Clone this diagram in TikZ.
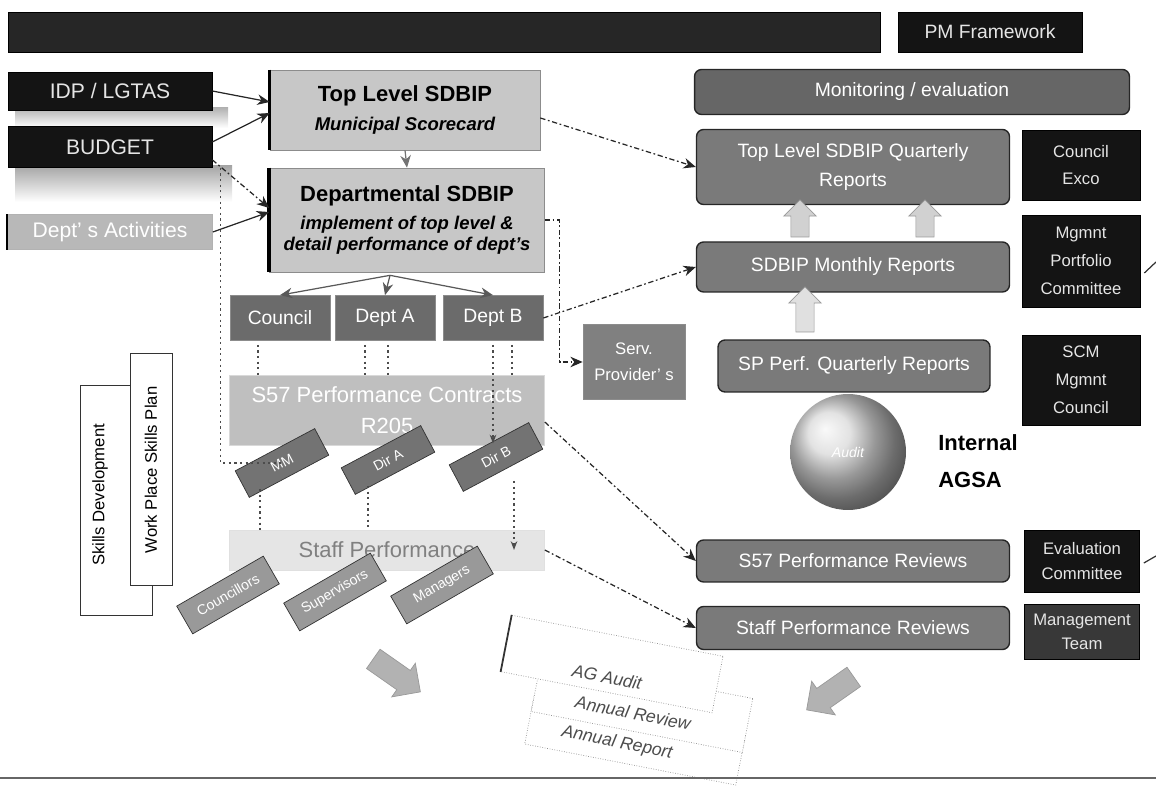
\documentclass[tikz,border=0pt]{standalone}
\usepackage{fontspec}
\setmainfont{Liberation Sans}
\usetikzlibrary{shapes.arrows,arrows.meta,calc}
\begin{document}
\begin{tikzpicture}[x=0.02cm,y=-0.02cm,
  blk/.style={draw=black, fill=black!92, text=black!10, inner sep=0pt, align=center},
  rbox/.style={draw=black!85, line width=0.8pt, rounded corners=4pt, fill=black!52, text=white, inner sep=0pt, align=center, font=\fontsize{11}{14}\selectfont},
  sdbip/.style={draw=black!45, fill=black!22, inner sep=0pt, align=center},
  dbox/.style={draw=black!45, fill=black!58, text=white, inner sep=0pt, align=center, font=\fontsize{11}{13}\selectfont},
  conn/.style={-{Stealth[length=7pt,width=6pt]}, black!85, line width=0.7pt},
  dconn/.style={conn, dash pattern=on 3pt off 1.5pt on 1pt off 1.5pt},
  dotl/.style={black!70, line width=0.8pt, dash pattern=on 1.2pt off 2pt},
  tilt/.style={draw=black!80, fill=black!45, text=white, inner sep=0pt, font=\fontsize{8}{9}\selectfont},
  pagebox/.style={draw=black!45, densely dotted, fill=white, inner sep=0pt, rotate=-11},
  pagetxt/.style={rotate=-11, text=black!70, font=\itshape\fontsize{10}{12}\selectfont},
  barrow/.style={single arrow, draw=black!40, fill=black!18, single arrow head extend=4pt, inner xsep=0pt, inner ysep=0pt}
]
\useasboundingbox (0,0) rectangle (1156,786);

% top bar
\node[blk, fill=black!85, minimum width=17.44cm, minimum height=0.8cm] (bar) at (444,32) {};
\node[blk, minimum width=3.68cm, minimum height=0.8cm, font=\fontsize{11}{13}\selectfont] (pmf) at (990,32) {PM Framework};

% left inputs
\shade[top color=black!30, bottom color=white] (15,108) rectangle (228,128);
\shade[top color=black!35, bottom color=white] (15,166) rectangle (232,202);
\node[blk, minimum width=4.08cm, minimum height=0.76cm, font=\fontsize{12}{14}\selectfont] (idp) at (110,91) {IDP / LGTAS};
\node[blk, minimum width=4.08cm, minimum height=0.82cm, font=\fontsize{12}{14}\selectfont] (budget) at (110,147) {BUDGET};
\node[draw=black!30, fill=black!28, text=white, minimum width=4.1cm, minimum height=0.7cm, inner sep=0pt, font=\fontsize{12}{14}\selectfont] (act) at (110,232) {Dept’ s Activities};
\draw[line width=1.5pt] (act.north west) -- (act.south west);

% SDBIP boxes
\node[sdbip, minimum width=5.4cm, minimum height=1.6cm] (tl) at (405,110)
  {{\fontsize{12.5}{16}\selectfont\bfseries Top Level SDBIP}\\[4pt]{\fontsize{10.5}{13}\selectfont\bfseries\itshape Municipal Scorecard}};
\node[sdbip, minimum width=5.5cm, minimum height=2.08cm] (ds) at (407,220)
  {{\fontsize{12.5}{16}\selectfont\bfseries Departmental SDBIP}\\[4pt]{\fontsize{10.5}{14}\selectfont\bfseries\itshape implement of top level \&}\\{\fontsize{10.5}{14}\selectfont\bfseries\itshape detail performance of dept’s}};
\draw[line width=2pt] (tl.north west) -- (tl.south west);
\draw[line width=2pt] (ds.north west) -- (ds.south west);
\draw[conn, black!55] (tl.south) -- (ds.north);

% departments
\node[dbox, minimum width=2cm, minimum height=0.9cm] (council) at (280,318) {Council};
\node[dbox, minimum width=2cm, minimum height=0.9cm] (depA) at (385,318) {Dept A};
\node[dbox, minimum width=2cm, minimum height=0.9cm] (depB) at (493,318) {Dept B};
\node[dbox, fill=black!50, minimum width=2.04cm, minimum height=1.5cm, font=\fontsize{9.5}{15}\selectfont] (serv) at (634,362) {Serv.\\Provider’ s};

% contracts and staff
\node[draw=black!15, fill=black!25, text=white, minimum width=6.3cm, minimum height=1.4cm, inner sep=0pt, align=center, font=\fontsize{12.5}{18}\selectfont] (s57c) at (387,410) {S57 Performance Contracts\\R205};
\node[draw=black!12, fill=black!10, text=black!50, minimum width=6.3cm, minimum height=0.8cm, inner sep=0pt, font=\fontsize{12.5}{15}\selectfont] (staff) at (387,550) {Staff Performance};

\node[tilt, fill=black!55, minimum width=1.8cm, minimum height=0.6cm, rotate=28] (mm) at (282,463) {MM};
\node[tilt, fill=black!55, minimum width=1.8cm, minimum height=0.6cm, rotate=28] (dira) at (388,460) {Dir A};
\node[tilt, fill=black!55, minimum width=1.8cm, minimum height=0.6cm, rotate=28] (dirb) at (496,457) {Dir B};

\node[tilt, fill=black!40, minimum width=2cm, minimum height=0.64cm, rotate=30] (cl) at (228,595) {Councillors};
\node[tilt, fill=black!40, minimum width=2cm, minimum height=0.64cm, rotate=30] (sup) at (335,592) {Supervisors};
\node[tilt, fill=black!40, minimum width=2cm, minimum height=0.64cm, rotate=30] (mgr) at (442,585) {Managers};

% skills
\node[draw=black!80, fill=white, minimum width=1.44cm, minimum height=4.6cm, inner sep=0pt] (sd) at (116,500) {};
\node[rotate=90, font=\fontsize{9.5}{11}\selectfont] (sdt) at (100,495) {Skills Development};
\node[draw=black!80, fill=white, minimum width=0.84cm, minimum height=4.64cm, inner sep=0pt] (wp) at (151,469) {};
\node[rotate=90, font=\fontsize{9.5}{11}\selectfont] (wpt) at (151,470) {Work Place Skills Plan};

% right column
\node[rbox, fill=black!60, minimum width=8.7cm, minimum height=0.9cm] (mon) at (912,92) {Monitoring / evaluation};
\node[rbox, minimum width=6.26cm, minimum height=1.5cm, font=\fontsize{11}{16}\selectfont] (tlq) at (853,167) {Top Level SDBIP Quarterly\\Reports};
\node[blk, minimum width=2.36cm, minimum height=1.4cm, font=\fontsize{9.5}{15}\selectfont] (exco) at (1081,165) {Council\\Exco};
\node[rbox, minimum width=6.26cm, minimum height=1.0cm] (mon2) at (853,267) {SDBIP Monthly Reports};
\node[blk, minimum width=2.36cm, minimum height=1.84cm, font=\fontsize{9.5}{16}\selectfont] (mpc) at (1081,261) {Mgmnt\\Portfolio\\Committee};
\node[rbox, minimum width=5.44cm, minimum height=1.04cm] (spq) at (854,366) {SP Perf. Quarterly Reports};
\node[blk, minimum width=2.36cm, minimum height=1.8cm, font=\fontsize{9.5}{16}\selectfont] (scm) at (1081,380) {SCM\\Mgmnt\\Council};
\node[circle, minimum size=2.32cm, inner sep=0pt, shading=ball, ball color=black!15, text=white, font=\itshape\fontsize{8}{9}\selectfont] (audit) at (848,452) {Audit};
\node[align=left, font=\bfseries\fontsize{12.5}{21}\selectfont] (agsa) at (978,461) {Internal\\AGSA};
\node[rbox, minimum width=6.26cm, minimum height=0.84cm] (s57r) at (853,561) {S57 Performance Reviews};
\node[blk, minimum width=2.3cm, minimum height=1.24cm, font=\fontsize{9.5}{14}\selectfont] (evalc) at (1082,561) {Evaluation\\Committee};
\node[rbox, minimum width=6.26cm, minimum height=0.86cm] (spr) at (853,628) {Staff Performance Reviews};
\node[blk, fill=black!78, minimum width=2.3cm, minimum height=1.1cm, font=\fontsize{9.5}{14}\selectfont] (mteam) at (1082,632) {Management\\Team};

% block arrows
\node[barrow, minimum height=0.74cm, rotate=90] (ua1) at (800,223) {\rule{0pt}{10pt}};
\node[barrow, minimum height=0.74cm, rotate=90] (ua2) at (925,223) {\rule{0pt}{10pt}};
\node[barrow, fill=black!12, minimum height=0.9cm, rotate=90] (ua3) at (805,314) {\rule{0pt}{10pt}};
\node[barrow, fill=black!30, minimum height=1.15cm, single arrow head extend=5pt, rotate=-35] (da1) at (392,672) {\rule{0pt}{13pt}};
\node[barrow, fill=black!30, minimum height=1.15cm, single arrow head extend=5pt, rotate=-145] (da2) at (835,690) {\rule{0pt}{13pt}};

% bottom pages
\node[pagebox, minimum width=4.3cm, minimum height=1.0cm] (p3) at (635,740) {};
\node[pagebox, minimum width=4.3cm, minimum height=1.1cm] (p2) at (642,705) {};
\node[pagebox, minimum width=4.3cm, minimum height=1.15cm] (p1) at (612,664) {};
\draw[black!80, line width=1pt] (p1.north west) -- (p1.south west);
\node[pagetxt] (t1) at (607,677) {AG Audit};
\node[pagetxt] (t2) at (633,713) {Annual Review};
\node[pagetxt] (t3) at (617,743) {Annual Report};

% bottom rule
\coordinate (bl) at (0,778);
\coordinate (br) at (1156,778);
\draw[black!60, line width=1.2pt] (bl) -- (br);

% connectors: inputs
\draw[conn] (idp.east) -- ($(tl.west)+(0,-8)$);
\draw[conn] ($(budget.east)+(0,-5)$) -- ($(tl.west)+(0,3)$);
\draw[dconn] ($(budget.south east)+(0,-8)$) -- ($(ds.west)+(0,-12)$);
\draw[conn] (act.east) -- ($(ds.west)+(0,-8)$);
\draw[dotl] ($(budget.south east)+(8,0)$) coordinate (bv) -- (bv |- mm.center) -- (mm.center);

% SDBIP to departments
\coordinate (dsb) at ($(ds.south)+(-17,3)$);
\draw[conn, black!65] (dsb) -- (council.north);
\draw[conn, black!65] (dsb) -- (depA.north);
\draw[conn, black!65] (dsb) -- (depB.north);

% dotted department links
\draw[dotl] ($(council.south)+(-22,4)$) coordinate (c1) -- (c1 |- s57c.north);
\draw[dotl] ($(depA.south)+(-20,4)$) coordinate (c2) -- (c2 |- s57c.north);
\draw[dotl] ($(depA.south)+(3,4)$) coordinate (c3) -- (c3 |- s57c.north);
\draw[dotl, -{Stealth[length=5pt]}] ($(depB.south)+(0,4)$) coordinate (c4) -- (c4 |- dirb.north);
\draw[dotl] ($(depB.south)+(19,4)$) coordinate (c5) -- (c5 |- s57c.north);
\draw[dotl] ($(mm.center)+(-22,26)$) coordinate (c6) -- (c6 |- staff.north);
\draw[dotl] ($(dira.center)+(-20,26)$) coordinate (c7) -- (c7 |- staff.north);
\draw[dotl, -{Stealth[length=5pt]}] ($(dirb.center)+(18,24)$) coordinate (c8) -- (c8 |- staff.center);

% dashed links to the right
\draw[dconn] ($(tl.east)+(0,8)$) -- (tlq.west);
\draw[dconn] (ds.east) -- ++(15,0) coordinate (dse) -- (dse |- serv.west) -- (serv.west);
\draw[dconn] (depB.east) -- (mon2.west);
\draw[dconn] ($(s57c.east)+(0,12)$) -- (s57r.west);
\draw[dconn] (staff.east) -- (spr.west);

% off-picture stubs
\coordinate (offa) at (1156,262);
\coordinate (offb) at (1156,556);
\draw[black!80, line width=0.7pt] ($(mpc.east)+(4,12)$) -- (offa);
\draw[black!80, line width=0.7pt] ($(evalc.east)+(4,2)$) -- (offb);
\end{tikzpicture}
\end{document}
